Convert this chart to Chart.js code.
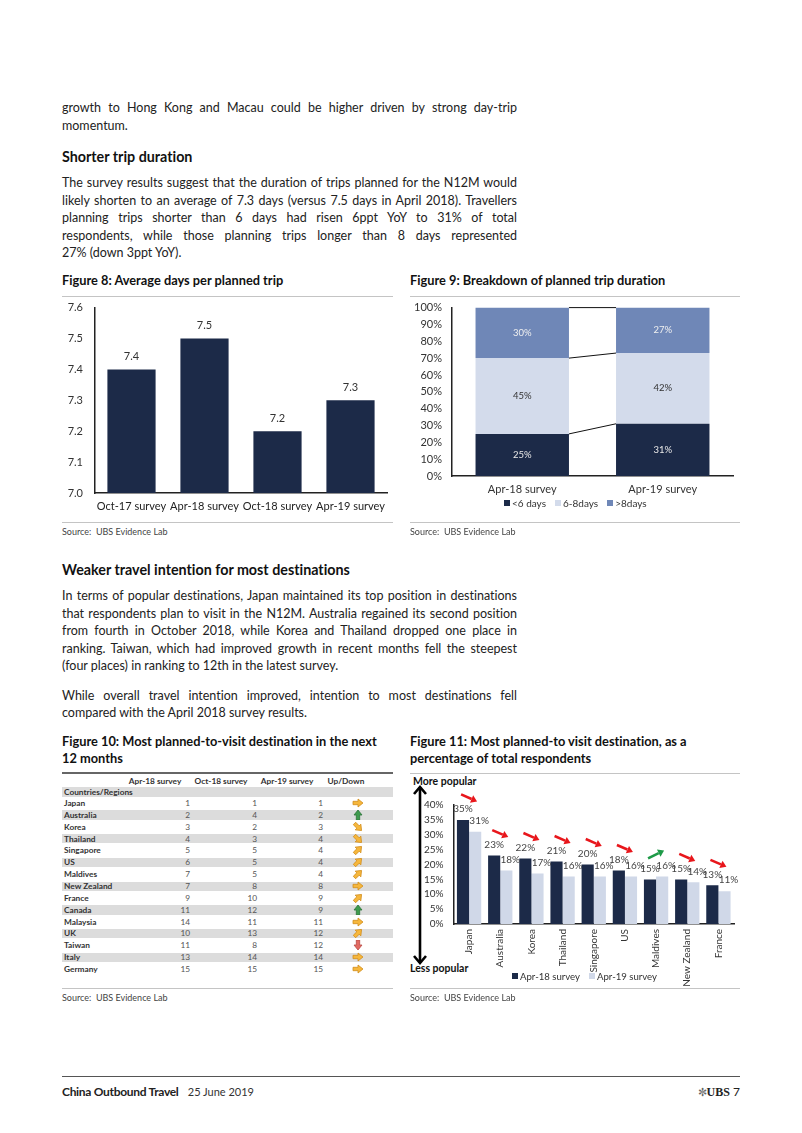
<!DOCTYPE html>
<html>
<head>
<meta charset="utf-8">
<script src="https://cdn.jsdelivr.net/npm/chart.js@4.4.1/dist/chart.umd.min.js"></script>
<style>
  body { margin:0; background:#fff; width:802px; height:1133px; position:relative; overflow:hidden;
         font-family: Lato, "Open Sans", sans-serif; color:#222; font-variant-ligatures:none; }
  .ln { position:absolute; left:62px; white-space:nowrap; font-size:12.5px; line-height:18px; height:18px; color:#222; }
  .h2 { position:absolute; left:62px; white-space:nowrap; font-weight:bold; font-size:14.3px; line-height:18px; color:#111; }
  .ftitle { position:absolute; white-space:nowrap; font-weight:bold; font-size:12.8px; line-height:17px; color:#111; }
  .rule { position:absolute; height:1px; background:#c4c4c4; }
  .src { position:absolute; font-size:9px; line-height:12px; color:#444; white-space:pre; }
  .leg { position:absolute; font-size:10px; line-height:12px; color:#333; white-space:nowrap; }
  .leg i { display:inline-block; width:6px; height:6px; margin-right:2px; vertical-align:1px; }
  .leg span { margin-right:9px; }
  canvas { position:absolute; }
  #fig10 { position:absolute; left:62px; top:772px; width:331px; height:205px; font-size:8.3px; }
  #fig10 div { position:absolute; white-space:nowrap; line-height:12px; }
  .tb { font-weight:bold; color:#333; }
  .tv { color:#555; text-align:right; width:40px; }
  .th { font-weight:bold; color:#333; text-align:center; width:70px; }
</style>
</head>
<body>

<div class="ln j" style="top:99px">growth to Hong Kong and Macau could be higher driven by strong day-trip</div>
<div class="ln" style="top:117px">momentum.</div>

<div class="h2" style="top:148px">Shorter trip duration</div>
<div class="ln j" style="top:174px">The survey results suggest that the duration of trips planned for the N12M would</div>
<div class="ln j" style="top:192px">likely shorten to an average of 7.3 days (versus 7.5 days in April 2018). Travellers</div>
<div class="ln j" style="top:209px">planning trips shorter than 6 days had risen 6ppt YoY to 31% of total</div>
<div class="ln j" style="top:227px">respondents, while those planning trips longer than 8 days represented</div>
<div class="ln" style="top:244px">27% (down 3ppt YoY).</div>

<div class="ftitle" style="left:62px;top:272px">Figure 8: Average days per planned trip</div>
<div class="rule" style="left:62px;top:296px;width:331px"></div>
<canvas id="c8" width="331" height="231" style="left:62px;top:289px"></canvas>
<div class="rule" style="left:62px;top:522px;width:331px"></div>
<div class="src" style="left:62px;top:526px">Source:  UBS Evidence Lab</div>

<div class="ftitle" style="left:410px;top:272px">Figure 9: Breakdown of planned trip duration</div>
<div class="rule" style="left:410px;top:296px;width:330px"></div>
<canvas id="c9" width="335" height="207" style="left:405px;top:291px"></canvas>
<div class="leg" id="leg9" style="left:504px;top:497px"></div>
<div class="rule" style="left:410px;top:522px;width:330px"></div>
<div class="src" style="left:410px;top:526px">Source:  UBS Evidence Lab</div>

<div class="h2" style="top:561px">Weaker travel intention for most destinations</div>
<div class="ln j" style="top:587px">In terms of popular destinations, Japan maintained its top position in destinations</div>
<div class="ln j" style="top:605px">that respondents plan to visit in the N12M. Australia regained its second position</div>
<div class="ln j" style="top:622px">from fourth in October 2018, while Korea and Thailand dropped one place in</div>
<div class="ln j" style="top:640px">ranking. Taiwan, which had improved growth in recent months fell the steepest</div>
<div class="ln" style="top:657px">(four places) in ranking to 12th in the latest survey.</div>
<div class="ln j" style="top:687px">While overall travel intention improved, intention to most destinations fell</div>
<div class="ln" style="top:704px">compared with the April 2018 survey results.</div>

<div class="ftitle" style="left:62px;top:733px">Figure 10: Most planned-to-visit destination in the next</div>
<div class="ftitle" style="left:62px;top:750px">12 months</div>
<div id="fig10"></div>
<div class="rule" style="left:62px;top:988px;width:331px"></div>
<div class="src" style="left:62px;top:992px">Source:  UBS Evidence Lab</div>

<div class="ftitle" style="left:410px;top:733px">Figure 11: Most planned-to visit destination, as a</div>
<div class="ftitle" style="left:410px;top:750px">percentage of total respondents</div>
<div class="rule" style="left:410px;top:773px;width:330px"></div>
<div class="ftitle" style="left:413px;top:773px;font-size:10.5px">More popular</div>
<div class="ftitle" style="left:410px;top:960px;font-size:10.5px">Less popular</div>
<svg style="position:absolute;left:410px;top:784px" width="20" height="184">
  <line x1="10" y1="3" x2="10" y2="179" stroke="#000" stroke-width="2.6"/>
  <polyline points="4,10 10,3 16,10" fill="none" stroke="#000" stroke-width="2.6"/>
  <polyline points="4,172 10,179 16,172" fill="none" stroke="#000" stroke-width="2.6"/>
</svg>
<canvas id="c11" width="335" height="215" style="left:405px;top:775px"></canvas>
<div class="leg" id="leg11" style="left:512px;top:971px;font-size:9.6px"></div>
<div class="rule" style="left:410px;top:988px;width:330px"></div>
<div class="src" style="left:410px;top:992px">Source:  UBS Evidence Lab</div>

<div class="rule" style="left:62px;top:1076px;width:678px;background:#555"></div>
<div style="position:absolute;left:62px;top:1084px;font-size:12px;line-height:15px;white-space:nowrap">
  <b style="letter-spacing:-0.3px">China Outbound Travel</b>&nbsp;&nbsp; <span style="font-size:11px;color:#333">25 June 2019</span>
</div>
<div style="position:absolute;right:62px;top:1084px;font-size:12px;line-height:15px;white-space:nowrap">
  <span style="color:#666;font-size:11px">&#x273C;</span><span style="font-family:'Liberation Serif',serif;font-weight:bold">UBS</span>&nbsp;7
</div>

<script>
// ---- data ----------------------------------------------------------
const fig8Labels = ["Oct-17 survey", "Apr-18 survey", "Oct-18 survey", "Apr-19 survey"];
const fig8Days   = [7.4, 7.5, 7.2, 7.3];
const fig8Axis   = { min: 7.0, max: 7.6, step: 0.1 };

const fig9Labels = ["Apr-18 survey", "Apr-19 survey"];
const fig9Names  = ["<6 days", "6-8days", ">8days"];
const fig9Under6 = [25, 31];
const fig9Six8   = [45, 42];
const fig9Over8  = [30, 27];
const fig9Axis   = { min: 0, max: 100, step: 10 };

const fig10Heads    = ["Apr-18 survey", "Oct-18 survey", "Apr-19 survey", "Up/Down"];
const fig10Regions  = ["Japan", "Australia", "Korea", "Thailand", "Singapore", "US", "Maldives",
                       "New Zealand", "France", "Canada", "Malaysia", "UK", "Taiwan", "Italy", "Germany"];
const fig10Apr18    = [1, 2, 3, 4, 5, 6, 7, 7, 9, 11, 14, 10, 11, 13, 15];
const fig10Oct18    = [1, 4, 2, 3, 5, 5, 5, 8, 10, 12, 11, 13, 8, 14, 15];
const fig10Apr19    = [1, 2, 3, 4, 4, 4, 4, 8, 9, 9, 11, 12, 12, 14, 15];

const fig11Labels = ["Japan", "Australia", "Korea", "Thailand", "Singapore", "US", "Maldives", "New Zealand", "France"];
const fig11Names  = ["Apr-18 survey", "Apr-19 survey"];
const fig11Apr18  = [35, 23, 22, 21, 20, 18, 15, 15, 13];
const fig11Apr19  = [31, 18, 17, 16, 16, 16, 16, 14, 11];
const fig11Axis   = { min: 0, max: 40, step: 5 };

// ---- colours -------------------------------------------------------
const NAVY  = "#1c2a48";
const LIGHT = "#d3dbeb";
const MID   = "#6f87b7";
const PALE  = "#d0d8e8";
const AXIS  = "#222";

Chart.defaults.font.family = "Lato, 'Open Sans', sans-serif";
Chart.defaults.color = "#333";

// ---- body text justification (fixed line breaks) -------------------
document.querySelectorAll(".ln.j").forEach(el => {
  const W = 455;
  const w = el.getBoundingClientRect().width;
  const spaces = (el.textContent.match(/ /g) || []).length;
  if (w <= W) el.style.wordSpacing = ((W - w) / spaces) + "px";
  else el.style.letterSpacing = ((W - w) / (el.textContent.length - 1)) + "px";
});

function axisOpts(extra) {
  return Object.assign({
    grid:   { display: false, drawTicks: false },
    border: { display: true, color: AXIS, width: 1.5 },
  }, extra);
}

// ---- Figure 8 ------------------------------------------------------
new Chart(document.getElementById("c8"), {
  type: "bar",
  data: {
    labels: fig8Labels,
    datasets: [{ data: fig8Days, backgroundColor: NAVY, barPercentage: 0.66, categoryPercentage: 1 }],
  },
  options: {
    responsive: false, animation: false, devicePixelRatio: 1,
    layout: { padding: { top: 0, right: 6, left: 0, bottom: 0 } },
    plugins: { legend: { display: false }, tooltip: { enabled: false } },
    scales: {
      x: axisOpts({
        ticks: { font: { size: 11 }, color: "#222", padding: 7, maxRotation: 0, minRotation: 0, autoSkip: false },
        afterFit: s => { s.height = 27; },
      }),
      y: axisOpts({
        min: fig8Axis.min, max: fig8Axis.max,
        ticks: { stepSize: fig8Axis.step, autoSkip: false, font: { size: 11 }, color: "#333", padding: 12,
                 callback: v => v.toFixed(1) },
        afterFit: s => { s.width = 33; },
      }),
    },
  },
  plugins: [{
    id: "vals8",
    afterDatasetsDraw(chart) {
      const ctx = chart.ctx;
      ctx.save();
      ctx.font = "11px Lato, sans-serif";
      ctx.fillStyle = "#333";
      ctx.textAlign = "center";
      ctx.textBaseline = "middle";
      chart.getDatasetMeta(0).data.forEach((bar, i) => {
        ctx.fillText(fig8Days[i].toFixed(1), bar.x, bar.y - 13);
      });
      ctx.restore();
    },
  }],
});

// ---- Figure 9 ------------------------------------------------------
const fig9Sets = [
  { label: fig9Names[0], data: fig9Under6, backgroundColor: NAVY,  text: "#e8e8e8" },
  { label: fig9Names[1], data: fig9Six8,   backgroundColor: LIGHT, text: "#333" },
  { label: fig9Names[2], data: fig9Over8,  backgroundColor: MID,   text: "#f0f0f0" },
];
new Chart(document.getElementById("c9"), {
  type: "bar",
  data: {
    labels: fig9Labels,
    datasets: fig9Sets.map(d => ({ label: d.label, data: d.data, backgroundColor: d.backgroundColor,
                                   barPercentage: 0.665, categoryPercentage: 1 })),
  },
  options: {
    responsive: false, animation: false, devicePixelRatio: 1,
    layout: { padding: { top: 0, right: 7, left: 0, bottom: 0 } },
    plugins: { legend: { display: false }, tooltip: { enabled: false } },
    scales: {
      x: axisOpts({
        stacked: true,
        ticks: { font: { size: 11 }, color: "#333", padding: 7, maxRotation: 0, autoSkip: false },
        afterFit: s => { s.height = 22; },
      }),
      y: axisOpts({
        stacked: true, min: fig9Axis.min, max: fig9Axis.max,
        ticks: { stepSize: fig9Axis.step, autoSkip: false, font: { size: 11 }, color: "#333", padding: 10,
                 callback: v => v + "%" },
        afterFit: s => { s.width = 47; },
      }),
    },
  },
  plugins: [{
    id: "vals9",
    afterDatasetsDraw(chart) {
      const ctx = chart.ctx;
      ctx.save();
      // series lines between the two stacks
      ctx.strokeStyle = "#111";
      ctx.lineWidth = 1;
      chart.data.datasets.forEach((ds, k) => {
        const bars = chart.getDatasetMeta(k).data;
        const a = bars[0], b = bars[1];
        ctx.beginPath();
        ctx.moveTo(a.x + a.width / 2, a.y);
        ctx.lineTo(b.x - b.width / 2, b.y);
        ctx.stroke();
      });
      ctx.font = "9.5px Lato, sans-serif";
      ctx.textAlign = "center";
      ctx.textBaseline = "middle";
      fig9Sets.forEach((d, k) => {
        chart.getDatasetMeta(k).data.forEach((bar, i) => {
          ctx.fillStyle = d.text;
          ctx.fillText(d.data[i] + "%", bar.x, (bar.y + bar.base) / 2);
        });
      });
      ctx.restore();
    },
  }],
});
document.getElementById("leg9").innerHTML = fig9Sets
  .map(d => `<span><i style="background:${d.backgroundColor}"></i>${d.label.replace("<", "&lt;").replace(">", "&gt;")}</span>`).join("");

// ---- Figure 10 (table) ---------------------------------------------
(function buildTable() {
  const el = document.getElementById("fig10");
  const rowH = 11.86;
  let html = `<div style="left:0;top:0;width:331px;height:2px;background:#666"></div>`;
  const headX = [93, 159, 225, 284];
  fig10Heads.forEach((h, i) => {
    html += `<div class="th" style="left:${headX[i] - 35}px;top:3px">${h}</div>`;
  });
  html += `<div style="left:0;top:15px;width:331px;height:10px;background:#dcdcdc"></div>`;
  html += `<div class="tb" style="left:2px;top:14px">Countries/Regions</div>`;
  const valRight = [128, 195, 261];
  fig10Regions.forEach((name, r) => {
    const top = 25 + r * rowH;
    if (r % 2 === 1) {
      html += `<div style="left:0;top:${top + 1.5}px;width:331px;height:${rowH - 2.5}px;background:#dcdcdc"></div>`;
    }
    html += `<div class="tb" style="left:2px;top:${top}px">${name}</div>`;
    [fig10Apr18[r], fig10Oct18[r], fig10Apr19[r]].forEach((v, c) => {
      html += `<div class="tv" style="left:${valRight[c] - 40}px;top:${top}px">${v}</div>`;
    });
    // rank change between the last two surveys (positive = moved up)
    const d = fig10Oct18[r] - fig10Apr19[r];
    let rot = 0, fill = "#f6b73c", stroke = "#d18d1c";
    if (d === 1) rot = -45;
    else if (d >= 2) { rot = -90; fill = "#3f9b4e"; stroke = "#2c7538"; }
    else if (d === -1) rot = 45;
    else if (d <= -2) { rot = 90; fill = "#e26a62"; stroke = "#b94a44"; }
    html += `<div style="left:290px;top:${top + 1}px"><svg width="12" height="10" viewBox="0 0 12 10">
      <path d="M1,3.3 H6 V1 L11,5 L6,9 V6.7 H1 Z" fill="${fill}" stroke="${stroke}" stroke-width="0.8"
            transform="rotate(${rot} 6 5)"/></svg></div>`;
  });
  el.innerHTML = html;
})();

// ---- Figure 11 -----------------------------------------------------
new Chart(document.getElementById("c11"), {
  type: "bar",
  data: {
    labels: fig11Labels,
    datasets: [
      { label: fig11Names[0], data: fig11Apr18, backgroundColor: NAVY, barPercentage: 1, categoryPercentage: 0.78 },
      { label: fig11Names[1], data: fig11Apr19, backgroundColor: PALE, barPercentage: 1, categoryPercentage: 0.78 },
    ],
  },
  options: {
    responsive: false, animation: false, devicePixelRatio: 1,
    layout: { padding: { top: 30, right: 6, left: 0, bottom: 0 } },
    plugins: { legend: { display: false }, tooltip: { enabled: false } },
    scales: {
      x: axisOpts({
        ticks: { font: { size: 10 }, color: "#333", padding: 5, minRotation: 90, maxRotation: 90, autoSkip: false },
        afterFit: s => { s.height = 66; },
      }),
      y: axisOpts({
        min: fig11Axis.min, max: fig11Axis.max,
        ticks: { stepSize: fig11Axis.step, autoSkip: false, font: { size: 10 }, color: "#333", padding: 10,
                 callback: v => v + "%" },
        afterFit: s => { s.width = 48.5; },
      }),
    },
  },
  plugins: [{
    id: "vals11",
    afterDatasetsDraw(chart) {
      const ctx = chart.ctx;
      const m0 = chart.getDatasetMeta(0).data;
      const m1 = chart.getDatasetMeta(1).data;
      ctx.save();
      ctx.font = "10px Lato, sans-serif";
      ctx.fillStyle = "#444";
      ctx.textAlign = "center";
      ctx.textBaseline = "middle";
      m0.forEach((bar, i) => ctx.fillText(fig11Apr18[i] + "%", bar.x, bar.y - 11));
      m1.forEach((bar, i) => ctx.fillText(fig11Apr19[i] + "%", bar.x + 4, bar.y - 11));
      // direction arrows above each pair
      m0.forEach((b0, i) => {
        const b1 = m1[i];
        const cx = (b0.x + b1.x) / 2;
        const cy = Math.min(b0.y, b1.y) - 22;
        const up = fig11Apr19[i] > fig11Apr18[i];
        const dy = up ? -4 : 3.5;
        const x0 = cx - 8, y0 = cy - dy, x1 = cx + 8, y1 = cy + dy;
        const col = up ? "#1e9a47" : "#e8161b";
        const ang = Math.atan2(y1 - y0, x1 - x0);
        const hx = x1 - 6 * Math.cos(ang), hy = y1 - 6 * Math.sin(ang);
        ctx.strokeStyle = col;
        ctx.fillStyle = col;
        ctx.lineWidth = 2.6;
        ctx.beginPath();
        ctx.moveTo(x0, y0);
        ctx.lineTo(hx, hy);
        ctx.stroke();
        ctx.beginPath();
        ctx.moveTo(x1, y1);
        ctx.lineTo(hx + 4 * Math.sin(ang), hy - 4 * Math.cos(ang));
        ctx.lineTo(hx - 4 * Math.sin(ang), hy + 4 * Math.cos(ang));
        ctx.closePath();
        ctx.fill();
      });
      ctx.restore();
    },
  }],
});
document.getElementById("leg11").innerHTML = [[fig11Names[0], NAVY], [fig11Names[1], PALE]]
  .map(([n, c]) => `<span><i style="background:${c}"></i>${n}</span>`).join("");
</script>
</body>
</html>
